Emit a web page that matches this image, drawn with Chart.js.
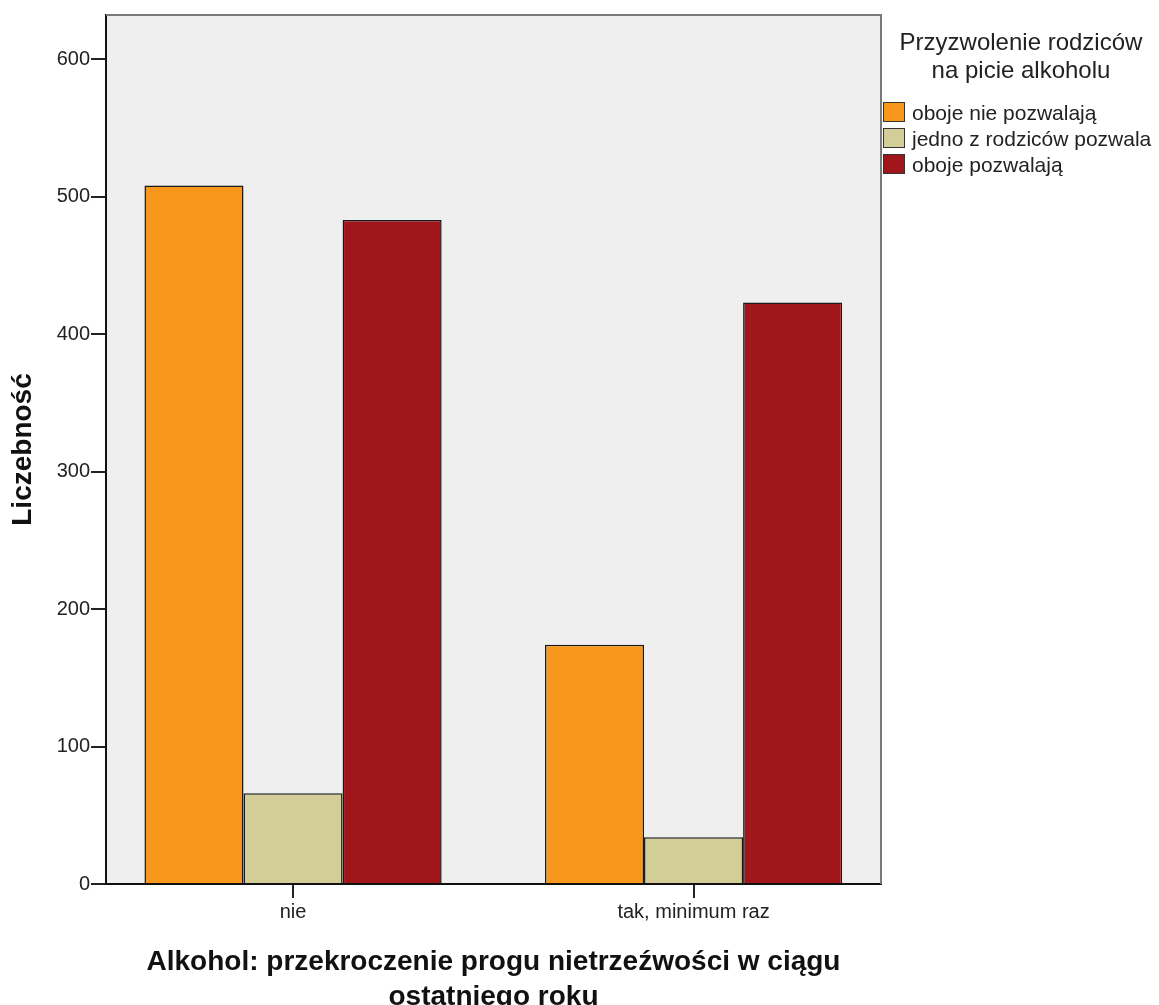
<!DOCTYPE html>
<html>
<head>
<meta charset="utf-8">
<script src="https://cdn.jsdelivr.net/npm/chart.js@4.4.0/dist/chart.umd.min.js"></script>
<style>
  html, body { margin: 0; padding: 0; background: #fff; overflow: hidden; }
  #wrap { position: relative; width: 1159px; height: 1040px; }
  #legend { position: absolute; left: 0; top: 0; font-family: "Liberation Sans", Arial, sans-serif; color: #222; }
  #legend .title { position: absolute; left: 886px; top: 28px; width: 270px; text-align: center; font-size: 24px; line-height: 28px; }
  #legend .item { position: absolute; left: 883px; height: 26px; display: flex; align-items: flex-start; font-size: 21px; line-height: 26px; white-space: nowrap; }
  #legend .box { width: 20px; height: 18px; border: 1px solid #333; margin-top: 2px; margin-right: 7px; }
</style>
</head>
<body>
<div id="wrap">
  <canvas id="barchart" width="1159" height="1040"></canvas>
  <div id="legend"></div>
</div>
<script>
const categories = ['nie', 'tak, minimum raz'];
const seriesNames = ['oboje nie pozwalają', 'jedno z rodziców pozwala', 'oboje pozwalają'];
const seriesColors = ['#f7981d', '#d3ce97', '#a0161b'];
const obojeNie = [508, 174];
const jednoPozwala = [66, 34];
const obojePozwalaja = [483, 423];
const yMax = 632;
const yStep = 100;
const legendTitle = ['Przyzwolenie rodziców', 'na picie alkoholu'];
const xTitle = ['Alkohol: przekroczenie progu nietrzeźwości w ciągu', 'ostatniego roku'];
const yTitle = 'Liczebność';

const seriesValues = [obojeNie, jednoPozwala, obojePozwalaja];

// grey plot background + grey top/right frame like SPSS
const plotFrame = {
  id: 'plotFrame',
  beforeDraw(chart) {
    const { ctx, chartArea: a } = chart;
    ctx.save();
    ctx.fillStyle = '#efefef';
    ctx.fillRect(a.left, a.top, a.right - a.left, a.bottom - a.top);
    ctx.restore();
  },
  afterDraw(chart) {
    const { ctx, chartArea: a } = chart;
    ctx.save();
    ctx.strokeStyle = '#7a7a7a';
    ctx.lineWidth = 2;
    ctx.beginPath();
    ctx.moveTo(a.left, a.top);
    ctx.lineTo(a.right, a.top);
    ctx.lineTo(a.right, a.bottom);
    ctx.stroke();
    ctx.restore();
  }
};

const ctx = document.getElementById('barchart');

new Chart(ctx, {
  type: 'bar',
  data: {
    datasets: seriesNames.map((name, i) => ({
      label: name,
      data: seriesValues[i].map((v, j) => ({ x: j, y: v })),
      backgroundColor: seriesColors[i],
      borderColor: '#1a1a1a',
      borderWidth: 1.5,
      categoryPercentage: 0.742,
      barPercentage: 1
    }))
  },
  options: {
    responsive: false,
    animation: false,
    layout: { padding: { top: 15, right: 278, left: 0, bottom: 0 } },
    plugins: {
      legend: { display: false },
      tooltip: { enabled: false }
    },
    scales: {
      x: {
        type: 'linear',
        offset: false,
        min: -0.467,
        max: 1.468,
        grid: { offset: false, drawOnChartArea: false, drawTicks: true, tickLength: 14, color: '#222', lineWidth: 2 },
        border: { color: '#111', width: 2 },
        ticks: {
          color: '#222', padding: 2, font: { family: 'Liberation Sans', size: 20 },
          callback: (v) => categories[v]
        },
        afterBuildTicks(scale) { scale.ticks = categories.map((c, i) => ({ value: i })); },
        title: {
          display: true,
          text: xTitle,
          color: '#111',
          font: { family: 'Liberation Sans', size: 28, weight: 'bold', lineHeight: 1.25 },
          padding: { top: 0, bottom: 25.5 }
        },
        afterFit(scale) { scale.height = 1040 - 884; }
      },
      y: {
        min: 0,
        max: yMax,
        grid: { drawOnChartArea: false, drawTicks: true, tickLength: 15, color: '#222', lineWidth: 2 },
        border: { color: '#111', width: 2 },
        ticks: { stepSize: yStep, color: '#222', padding: 1, font: { family: 'Liberation Sans', size: 20 } },
        afterBuildTicks(scale) { scale.ticks = scale.ticks.filter(t => t.value % yStep === 0); },
        title: {
          display: true,
          text: yTitle,
          color: '#111',
          font: { family: 'Liberation Sans', size: 28, weight: 'bold', lineHeight: 1.25 },
          padding: { top: 5.5, bottom: 0 }
        },
        afterFit(scale) { scale.width = 106; }
      }
    }
  },
  plugins: [plotFrame]
});

// legend drawn as html next to the plot
const legend = document.getElementById('legend');
const t = document.createElement('div');
t.className = 'title';
t.innerHTML = legendTitle.join('<br>');
legend.appendChild(t);
seriesNames.forEach((name, i) => {
  const row = document.createElement('div');
  row.className = 'item';
  row.style.top = (100 + i * 26) + 'px';
  const box = document.createElement('span');
  box.className = 'box';
  box.style.background = seriesColors[i];
  const txt = document.createElement('span');
  txt.textContent = name;
  row.appendChild(box);
  row.appendChild(txt);
  legend.appendChild(row);
});
</script>
</body>
</html>
